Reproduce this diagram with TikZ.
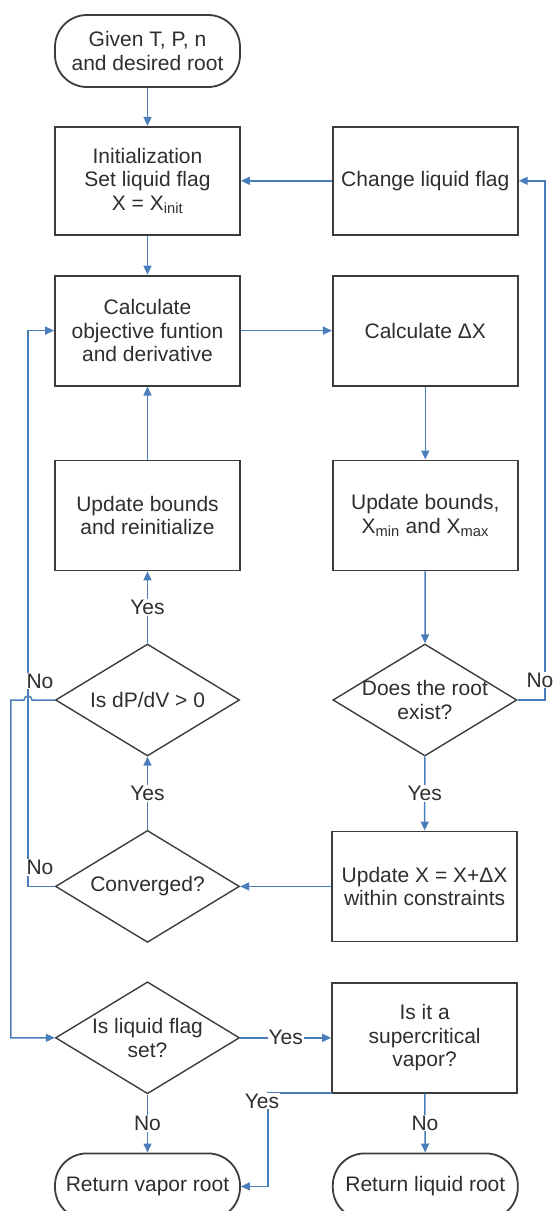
\documentclass[tikz,border=0pt]{standalone}
\usepackage{fontspec}
\setmainfont{Liberation Sans}
\usetikzlibrary{arrows.meta,positioning,shapes.geometric,calc}
\definecolor{Link}{HTML}{4A7EBB}
\definecolor{Edge}{HTML}{3C3C3C}
\definecolor{Ink}{HTML}{2E2E2E}
\newcommand{\boxfont}{\fontsize{21pt}{23.5pt}\selectfont}
\tikzset{
  proc/.style={draw=Edge,line width=1.8pt,minimum width=185pt,minimum height=110pt,
    align=center,text=Ink,font=\boxfont},
  term/.style={proc,rounded corners=32pt},
  dec/.style={diamond,draw=Edge,line width=1.4pt,minimum width=184pt,minimum height=112pt,
    inner xsep=-20pt,inner ysep=-20pt,align=center,text=Ink,font=\boxfont},
  arrow/.style={-{Triangle[length=9pt,width=8pt]},draw=Link,line width=1.5pt},
  lbl/.style={fill=white,inner sep=1pt,text=Ink,font=\boxfont}
}
\begin{document}
\begin{tikzpicture}[x=1pt,y=1pt,node distance=38pt]
        \useasboundingbox (-147.5,51) rectangle (406.5,-1160);
        % left column
        \node[term,minimum height=72pt] (start) {Given T, P, n\\and desired root};
        \node[proc,minimum height=108pt,below=38pt of start] (init) {Initialization\\Set liquid flag\\X = X\textsubscript{init}};
        \node[proc,below=39pt of init] (calc) {Calculate\\objective funtion\\and derivative};
        \node[proc,below=73pt of calc] (reinit) {Update bounds\\and reinitialize};
        \node[dec,below=72pt of reinit] (dpdv) {Is dP/dV > 0};
        \node[dec,below=73pt of dpdv] (conv) {Converged?};
        \node[dec,below=38pt of conv] (liq) {Is liquid flag\\set?};
        \node[term,minimum height=66pt,below=58pt of liq] (vroot) {Return vapor root};
        % right column
        \node[proc,minimum height=108pt,right=91pt of init] (flag) {Change liquid flag};
        \node[proc,right=91pt of calc] (dx) {Calculate ΔX};
        \node[proc,right=91pt of reinit] (bounds) {Update bounds,\\X\textsubscript{min} and X\textsubscript{max}};
        \node[dec,right=92pt of dpdv] (exist) {Does the root\\exist?};
        \node[proc,right=91pt of conv] (update) {Update X = X+ΔX\\within constraints};
        \node[proc,right=91pt of liq] (sup) {Is it a\\supercritical\\vapor?};
        \node[term,minimum height=66pt,right=91pt of vroot] (lroot) {Return liquid root};
        % bends
        \coordinate (lx1) at (-119.5,0);
        \coordinate (lx2) at (-136.5,0);
        \coordinate (rx) at (397.5,0);
        \coordinate (ycorner) at (120.5,-1042);
        % connectors
        \draw[arrow] (start)--(init); \draw[arrow] (init)--(calc);
        \draw[arrow] (flag)--(init); \draw[arrow] (calc)--(dx);
        \draw[arrow] (dx)--(bounds); \draw[arrow] (bounds)--(exist);
        \draw[arrow] (exist)--node[lbl]{Yes}(update);
        \draw[arrow] (update)--(conv);
        \draw[arrow] (conv)--node[lbl]{Yes}(dpdv);
        \draw[arrow] (dpdv)--node[lbl]{Yes}(reinit);
        \draw[arrow] (reinit)--(calc);
        \draw[arrow] (exist.east)--(exist.east -| rx) node[lbl,xshift=-5pt,yshift=20pt]{No} |- (flag.east);
        \draw[arrow] (conv.west)--(conv.west -| lx1) node[lbl,xshift=12pt,yshift=19pt]{No} |- (calc.west);
        \draw[arrow] (dpdv.west)--($(dpdv.west -| lx1)+(4,0)$) node[lbl,xshift=8pt,yshift=19pt]{No}
          arc[start angle=0,end angle=180,radius=4pt]--(dpdv.west -| lx2) |- (liq.west);
        \draw[arrow] (liq)--node[lbl]{Yes}(sup);
        \draw[arrow] (liq)--node[lbl]{No}(vroot);
        \draw[arrow] (sup)--node[lbl]{No}(lroot);
        \draw[arrow] (sup.south west) |- (ycorner) node[lbl,xshift=-6pt,yshift=-8pt]{Yes} |- (vroot.east);
      \end{tikzpicture}
\end{document}
